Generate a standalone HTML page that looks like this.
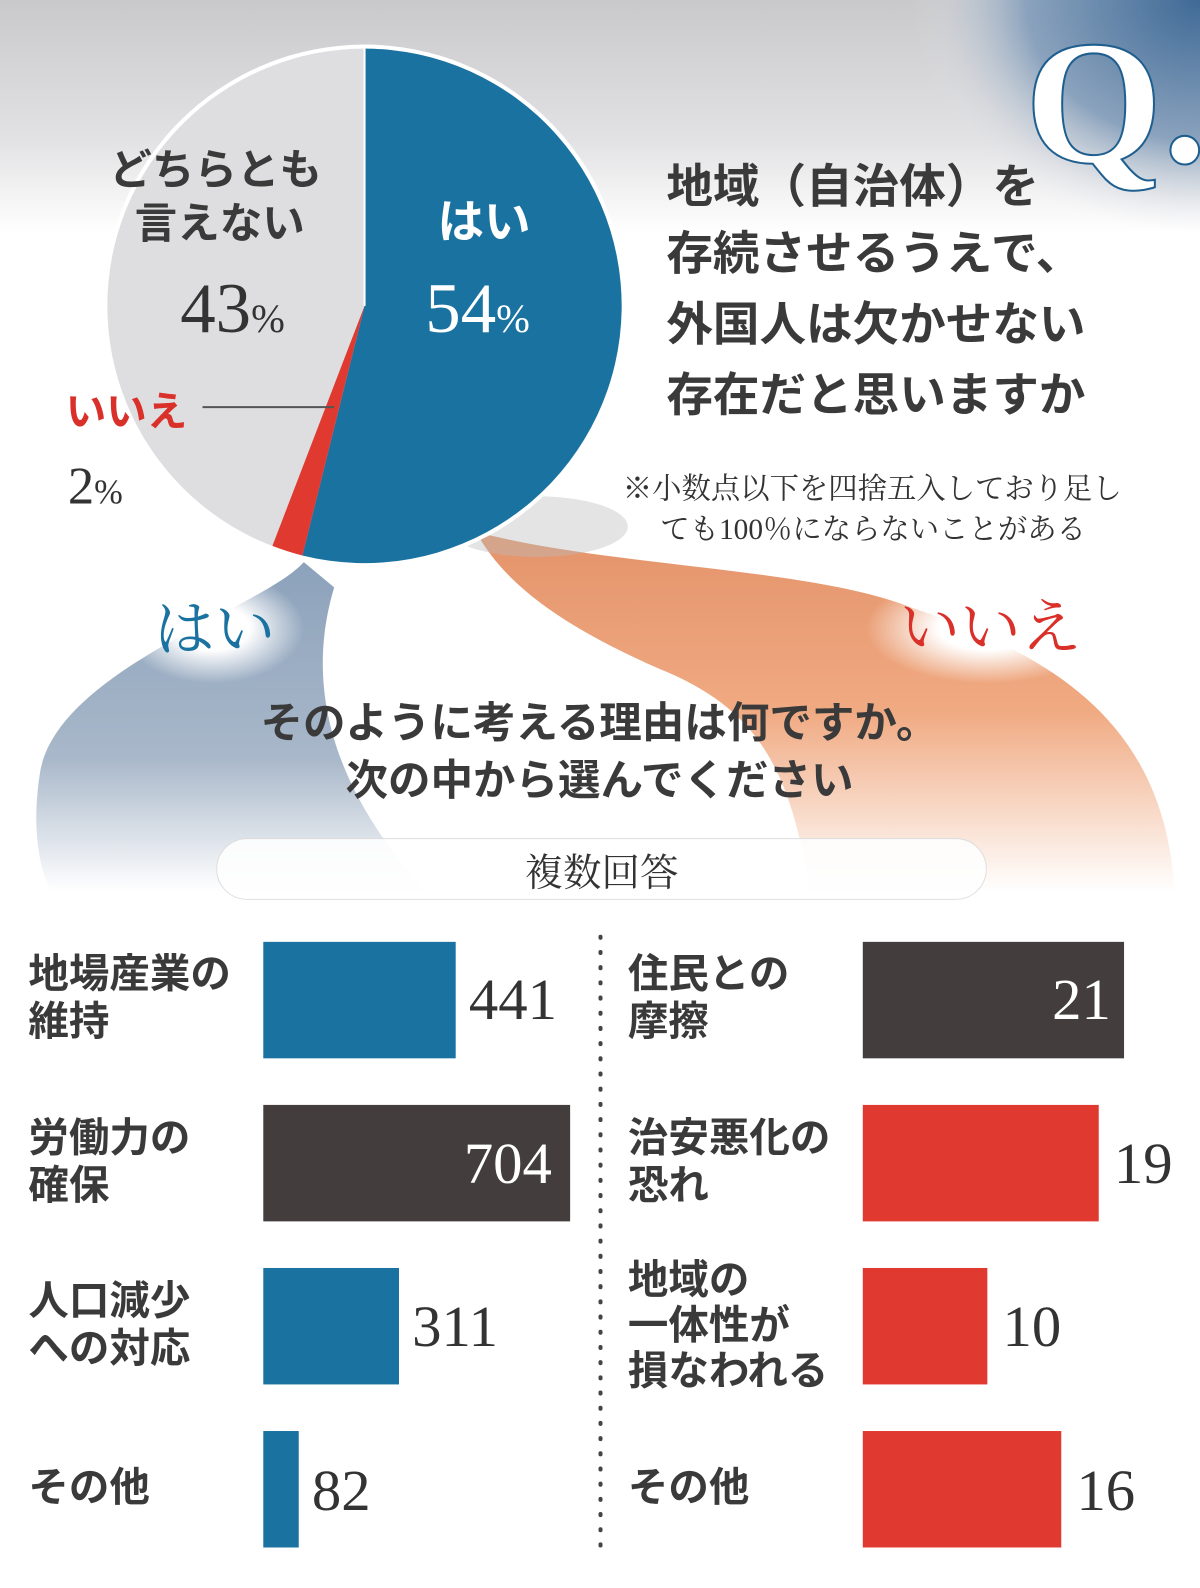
<!DOCTYPE html>
<html><head><meta charset="utf-8"><style>
html,body{margin:0;padding:0;background:#fff}
svg{display:block}
.g{font-family:"Liberation Sans","Noto Sans CJK JP",sans-serif;font-weight:bold;fill:#3a3a3a}
.s{font-family:"Liberation Serif","Noto Serif CJK SC",serif;fill:#333}
</style></head><body>
<svg width="1200" height="1588" viewBox="0 0 1185 1568" preserveAspectRatio="none" xmlns="http://www.w3.org/2000/svg">
<defs>
<linearGradient id="bg" x1="0" y1="0" x2="0" y2="1"><stop offset="0" stop-color="#c9c9cb"/><stop offset="0.6" stop-color="#e2e2e4"/><stop offset="1" stop-color="#fff"/></linearGradient>
<radialGradient id="qc" cx="1" cy="0" r="1"><stop offset="0" stop-color="#3f6a96"/><stop offset="0.6" stop-color="#8aa2bd"/><stop offset="1" stop-color="#e6e6e8" stop-opacity="0"/></radialGradient>
<linearGradient id="bb" x1="0" y1="0" x2="0" y2="1"><stop offset="0" stop-color="#8ca2bb"/><stop offset="0.6" stop-color="#a9b8ca"/><stop offset="1" stop-color="#fff"/></linearGradient>
<linearGradient id="ob" x1="0" y1="0" x2="0" y2="1"><stop offset="0" stop-color="#e4936a"/><stop offset="0.5" stop-color="#f0aa82"/><stop offset="1" stop-color="#fff"/></linearGradient>
<radialGradient id="glow"><stop offset="0.4" stop-color="#fff"/><stop offset="1" stop-color="#fff" stop-opacity="0"/></radialGradient>
</defs>
<rect width="1185" height="230" fill="url(#bg)"/>
<rect x="900" y="0" width="285" height="230" fill="url(#qc)"/>
<path d="M300,555 C260,600 60,660 40,760 C30,820 40,860 50,880 L420,880 C330,780 300,680 330,580 Z" fill="url(#bb)"/>
<path d="M470,525 C600,560 800,560 900,600 C1050,650 1150,720 1160,880 L800,880 C780,760 750,700 650,660 C560,620 500,580 470,525 Z" fill="url(#ob)"/>
<ellipse cx="210" cy="620" rx="90" ry="55" fill="url(#glow)"/>
<ellipse cx="975" cy="620" rx="120" ry="55" fill="url(#glow)"/>
<ellipse cx="530" cy="520" rx="90" ry="30" fill="#bbb" opacity="0.4"/>
<circle cx="360" cy="302" r="258" fill="#fff"/>
<circle cx="360" cy="302" r="254" fill="#dedee0"/>
<path d="M360,302 L360,48 A254,254 0 1 1 298.6,548.5 Z" fill="#1a72a0"/>
<path d="M360,302 L298.6,548.5 A254,254 0 0 1 269,539 Z" fill="#e0392f"/>
<line x1="360" y1="48" x2="360" y2="302" stroke="#fff" stroke-width="2"/>
<line x1="200" y1="402" x2="330" y2="402" stroke="#555" stroke-width="2"/>
<text class="g" x="108" y="182" font-size="42">どちらとも</text>
<text class="g" x="133" y="235" font-size="42">言えない</text>
<text class="s" x="178" y="328" font-size="70">43<tspan font-size="40">%</tspan></text>
<text class="g" x="65" y="420" font-size="40" style="fill:#d9302a">いいえ</text>
<text class="s" x="67" y="497" font-size="52">2<tspan font-size="34">%</tspan></text>
<text class="g" x="432" y="235" font-size="46" style="fill:#fff">はい</text>
<text class="s" x="420" y="328" font-size="70" style="fill:#fff">54<tspan font-size="40">%</tspan></text>
<text x="1012" y="160" font-family="Liberation Serif,serif" font-weight="bold" font-size="175" fill="#fff" stroke="#1f5f8f" stroke-width="2">Q.</text>
<text class="g" x="658" y="200" font-size="46">地域（自治体）を</text>
<text class="g" x="658" y="266" font-size="46">存続させるうえで、</text>
<text class="g" x="658" y="336" font-size="46">外国人は欠かせない</text>
<text class="g" x="658" y="406" font-size="46">存在だと思いますか</text>
<text class="s" x="615" y="492" font-size="29">※小数点以下を四捨五入しており足し</text>
<text class="s" x="652" y="532" font-size="29">ても100％にならないことがある</text>
<text x="152" y="642" font-family="Liberation Serif,'Noto Serif CJK SC',serif" font-size="60" fill="#1a72a0">はい</text>
<text x="888" y="640" font-family="Liberation Serif,'Noto Serif CJK SC',serif" font-size="60" fill="#d9302a">いいえ</text>
<text class="g" x="592" y="728" font-size="42" text-anchor="middle">そのように考える理由は何ですか。</text>
<text class="g" x="592" y="785" font-size="42" text-anchor="middle">次の中から選んでください</text>
<rect x="214" y="828" width="760" height="60" rx="30" fill="#fff" opacity="0.9" stroke="#ddd"/>
<text class="s" x="594" y="875" font-size="38" text-anchor="middle">複数回答</text>
<line x1="593" y1="925" x2="593" y2="1530" stroke="#444" stroke-width="4" stroke-dasharray="1,14" stroke-linecap="round"/>
<g class="g" font-size="40">
<text x="28" y="975">地場産業の</text><text x="28" y="1022">維持</text>
<text x="28" y="1137">労働力の</text><text x="28" y="1184">確保</text>
<text x="28" y="1298">人口減少</text><text x="28" y="1345">への対応</text>
<text x="28" y="1482">その他</text>
<text x="620" y="975">住民との</text><text x="620" y="1022">摩擦</text>
<text x="620" y="1137">治安悪化の</text><text x="620" y="1184">恐れ</text>
<text x="620" y="1277">地域の</text><text x="620" y="1322">一体性が</text><text x="620" y="1367">損なわれる</text>
<text x="620" y="1482">その他</text>
</g>
<rect x="260" y="930" width="190" height="115" fill="#1a72a0"/>
<rect x="260" y="1091" width="303" height="115" fill="#433d3d"/>
<rect x="260" y="1252" width="134" height="115" fill="#1a72a0"/>
<rect x="260" y="1413" width="35" height="115" fill="#1a72a0"/>
<rect x="852" y="930" width="258" height="115" fill="#433d3d"/>
<rect x="852" y="1091" width="233" height="115" fill="#e0392f"/>
<rect x="852" y="1252" width="123" height="115" fill="#e0392f"/>
<rect x="852" y="1413" width="196" height="115" fill="#e0392f"/>
<g class="s" font-size="58">
<text x="463" y="1006">441</text>
<text x="545" y="1168" text-anchor="end" style="fill:#fff">704</text>
<text x="407" y="1329">311</text>
<text x="308" y="1491">82</text>
<text x="1097" y="1006" text-anchor="end" style="fill:#fff">21</text>
<text x="1100" y="1168">19</text>
<text x="990" y="1329">10</text>
<text x="1063" y="1491">16</text>
</g>
</svg>
</body></html>
